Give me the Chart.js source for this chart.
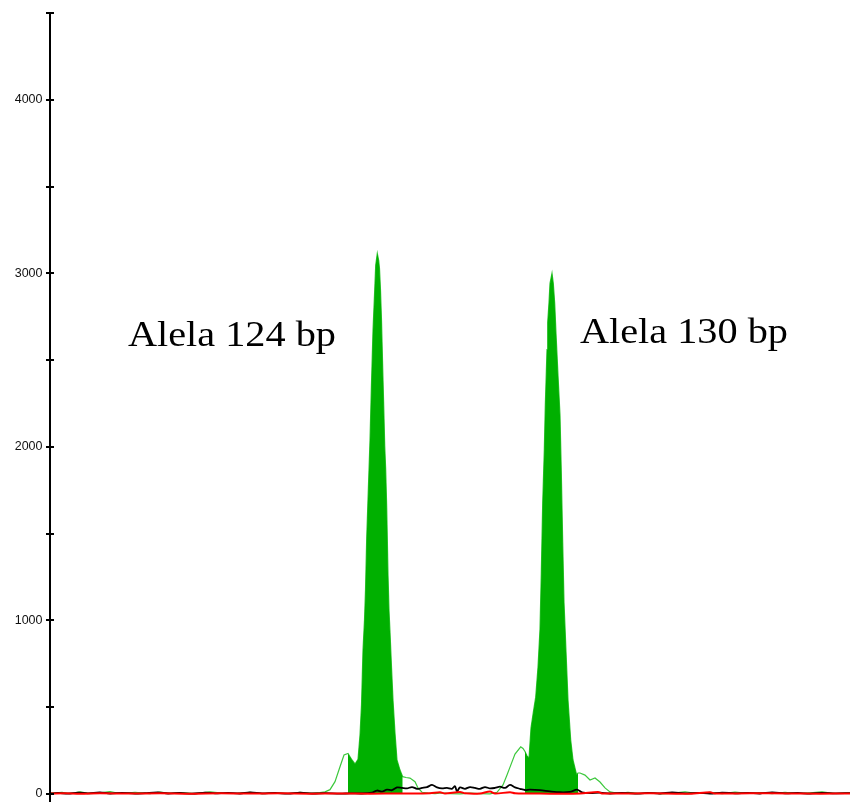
<!DOCTYPE html>
<html>
<head>
<meta charset="utf-8">
<script src="https://cdn.jsdelivr.net/npm/chart.js@4/dist/chart.umd.min.js"></script>
<style>
html,body{margin:0;padding:0;background:#fff;}
#wrap{width:850px;height:802px;position:relative;}
</style>
</head>
<body>
<div id="wrap"><canvas id="c" width="850" height="802"></canvas></div>
<script>
// ---- Data (x = scan number, y = RFU) ----
const greenScan = [0,12,20,30,40,50,60,70,85,100,110,120,130,145,160,172,185,200,212,225,240,250,262,270,275,
  280,285,290,294,298,302,305,308,310,311.5,313,314.5,315.5,316.7,318.3,320,321.3,323,324.7,325.7,327.3,328.7,329.5,330.5,331.5,332.5,333.7,334.7,335.7,336.7,338,339,340,341.5,343,345,347,350,352.7,356,360,365,368,372,378,
  385,392,400,410,420,430,440,447,453,457,460,465,470.7,473,475,477,479,481,483.3,485.7,488,490,491.3,492.7,494.3,495.3,497,497.7,499,500,502,503.3,504.7,506,508,510,511.3,512.7,514,516,518,520.7,523,526.7,528,530,535,540,545,550,555,560,
  568,578,590,600,612,625,635,648,660,672,685,698,710,722,735,748,760,772,785,800];
const greenValue = [4,10,3,12,2,6,14,3,9,2,11,4,8,2,12,5,3,9,2,7,3,10,4,8,12,
  25,71,157,225,234,196,173,200,340,513,829,1002,1174,1474,1750,2038,2326,2671,2902,3046,3115,3074,3028,2902,2729,2499,2240,2010,1866,1652,1266,1059,933,731,541,351,196,138,100,95,92,71,35,10,5,
  2,6,2,1,5,2,1,10,52,110,155,230,272,262,245,220,207,380,470,558,731,950,1272,1675,1980,2240,2560,2717,2832,2942,3001,2942,2827,2654,2412,2182,1854,1451,1105,823,541,311,196,109,121,121,109,81,92,69,35,12,
  4,10,2,8,1,6,12,3,9,2,11,4,8,2,10,3,7,12,3,6];

const blackScan = [0,8,18,28,38,50,60,72,85,95,108,118,130,142,155,165,178,190,200,212,225,238,250,262,275,290,300,312,322,327,332,337,342,347,352,357,362,367,372,377,382,387,392,397,402,405,407,410,415,420,425,430,435,440,445,450,455,460,465,470,475,480,490,500,510,520,527,532,540,550,560,572,585,598,610,622,635,648,660,672,685,698,710,722,735,748,760,772,785,800];
const blackValue = [3,6,2,8,4,9,3,7,2,5,9,3,6,2,8,4,7,3,9,4,6,2,8,3,5,2,4,3,8,20,14,25,22,38,35,32,40,30,35,40,52,38,32,35,30,45,15,38,30,40,35,30,40,32,35,42,35,52,38,30,23,25,22,15,10,12,25,10,5,8,3,7,2,6,3,9,4,7,2,8,4,6,3,9,4,6,2,7,4,5];

const redScan = [0,15,30,50,80,110,140,170,200,230,260,290,320,350,380,390,395,410,415,430,440,445,460,465,480,500,530,548,552,600,640,660,665,700,740,770,800];
const redValue = [3,4,2,4,3,4,2,4,3,4,2,3,2,3,4,10,3,12,4,3,14,3,10,4,3,2,3,12,3,4,2,10,3,4,3,2,3];

// filled (called) allele peaks: scan windows
const peakWindows = [[297, 353], [475, 528]];

// y-axis ticks
const yMin = 0, yMax = 4500, yStep = 500, yLabelEvery = 1000;

// annotations
const labelTexts = ['Alela 124 bp', 'Alela 130 bp'];
const labelScan = [78, 530];
const labelValue = [2579, 2596];

// ---- Build datasets ----
const toPts = (xs, ys) => xs.map((x, i) => ({x: x, y: ys[i]}));
const greenPts = toPts(greenScan, greenValue);
const fillSets = peakWindows.map(w => ({
  data: greenPts.filter(p => p.x >= w[0] && p.x <= w[1]),
  borderWidth: 0,
  borderColor: 'rgba(0,0,0,0)',
  backgroundColor: '#00b000',
  fill: 'origin',
  stepped: false,
  pointRadius: 0,
  order: 3
}));

const axisPlugin = {
  id: 'axisPlugin',
  afterDraw(chart) {
    const ctx = chart.ctx;
    const ys = chart.scales.y, xs = chart.scales.x;
    const ax = chart.chartArea.left;
    ctx.save();
    ctx.strokeStyle = '#000';
    ctx.lineWidth = 2;
    ctx.beginPath();
    ctx.moveTo(ax, ys.getPixelForValue(yMax) - 1);
    ctx.lineTo(ax, chart.height);
    ctx.stroke();
    ys.ticks.forEach(t => {
      const py = Math.round(ys.getPixelForValue(t.value));
      ctx.beginPath();
      ctx.moveTo(ax - 4, py);
      ctx.lineTo(ax + 4, py);
      ctx.stroke();
    });
    ctx.fillStyle = '#000';
    ctx.font = '35px "Liberation Serif", "Times New Roman", serif';
    ctx.textBaseline = 'alphabetic';
    ctx.textAlign = 'left';
    labelTexts.forEach((txt, i) => {
      const px = xs.getPixelForValue(labelScan[i]);
      const py = ys.getPixelForValue(labelValue[i]);
      ctx.save();
      ctx.translate(px, py);
      ctx.scale(1.15, 1);
      ctx.fillText(txt, 0, 0);
      ctx.restore();
    });
    ctx.restore();
  }
};

new Chart(document.getElementById('c'), {
  type: 'line',
  data: {
    datasets: [
      {data: toPts(redScan, redValue), borderColor: '#ff0000', borderWidth: 2, pointRadius: 0, fill: false, tension: 0.3, order: 0, clip: false},
      {data: toPts(blackScan, blackValue), borderColor: '#000000', borderWidth: 1.8, pointRadius: 0, fill: false, tension: 0.3, order: 1, clip: false},
      ...fillSets,
      {data: greenPts, borderColor: '#3cc83c', borderWidth: 1.2, pointRadius: 0, fill: false, tension: 0, order: 6, clip: false}
    ]
  },
  options: {
    responsive: false,
    animation: false,
    events: [],
    layout: {padding: {top: 13, bottom: 8, left: 0, right: 0}},
    plugins: {legend: {display: false}, tooltip: {enabled: false}},
    scales: {
      x: {type: 'linear', display: false, min: 0, max: 800},
      y: {
        type: 'linear', min: yMin, max: yMax,
        afterFit(s) { s.width = 50; s.paddingTop = 0; s.paddingBottom = 0; },
        border: {display: false},
        grid: {display: false, drawTicks: false},
        ticks: {
          stepSize: yStep, autoSkip: false, padding: 7.5, color: '#111',
          font: {family: '"Liberation Sans", Arial, sans-serif', size: 12.5},
          callback: v => (v % yLabelEvery === 0 ? String(v) : '')
        }
      }
    }
  },
  plugins: [axisPlugin]
});
</script>
</body>
</html>
